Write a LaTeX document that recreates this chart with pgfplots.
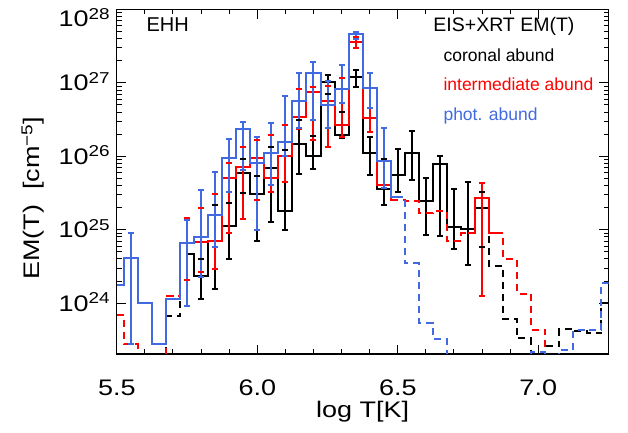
\documentclass[border=0pt]{standalone}
\usepackage{fontspec}
\setmainfont{Liberation Sans}
\newfontfamily\idlfont{Liberation Sans}[FakeStretch=1.2]
\usepackage{pgfplots}
\pgfplotsset{compat=1.18}
\usepackage{pgfplotstable}
\definecolor{photblue}{RGB}{65,105,225}
\definecolor{interred}{RGB}{255,0,0}

\pgfplotstableread{
T coronal inter phot
5.50 1e23 6.92e23 1.78e24
5.55 1e23 2.75e23 4.17e24
5.60 1e23 1e23 1.02e24
5.65 1e23 1e23 2.75e23
5.70 6.61e23 1.26e24 1.15e24
5.75 4.68e24 6.61e24 6.61e24
5.80 2.34e24 6.76e24 7.94e24
5.85 7.08e24 6.92e24 1.58e25
5.90 1.12e25 5.13e25 9.55e25
5.95 5.89e25 7.08e25 2.34e26
6.00 3.09e25 9.55e25 8.13e25
6.05 6.92e25 5.13e25 1.12e26
6.10 1.82e25 1.02e26 1.58e26
6.15 1.48e26 3.39e26 5.62e26
6.20 1.00e26 7.59e26 1.35e27
6.25 1.02e27 5.75e26 5.01e26
6.30 1.95e26 2.63e26 8.32e26
6.35 1.20e27 3.63e27 4.57e27
6.40 1.12e26 3.31e26 8.51e26
6.45 3.63e25 4.07e25 8.71e25
6.50 5.50e25 2.51e25 2.82e25
6.55 1.10e26 2.45e25 3.47e24
6.60 2.45e25 1.70e25 5.37e23
6.65 7.94e25 1.82e25 3.24e23
6.70 1.10e25 7.08e24 1e23
6.75 1.02e25 8.91e24 1e23
6.80 2.00e25 2.69e25 1e23
6.85 3.24e24 8.91e24 1e23
6.90 6.17e23 3.98e24 1e23
6.95 3.31e23 1.35e24 1e23
7.00 1e23 4.37e23 2.14e23
7.05 2.57e23 1e23 1e23
7.10 4.47e23 1e23 2.29e23
7.15 4.17e23 1e23 4.27e23
7.20 3.89e23 1e23 4.37e23
7.25 1.00e24 1e23 1.91e24
}\emdata

% error bars: two rows per bar (low, high), nan row breaks the line
\pgfplotstableread{
T E
5.80 1.15e24
5.80 3.98e24
5.80 nan
5.85 1.58e24
5.85 2.14e25
5.85 nan
5.90 3.98e24
5.90 2.34e25
5.90 nan
5.95 3.16e25
5.95 9.12e25
5.95 nan
6.00 7.08e24
6.00 5.37e25
6.00 nan
6.05 1.26e25
6.05 1.35e26
6.05 nan
6.10 1.00e25
6.10 1.20e26
6.10 nan
6.15 5.75e25
6.15 3.09e26
6.15 nan
6.20 6.76e25
6.20 1.91e26
6.20 nan
6.25 7.08e26
6.25 1.29e27
6.25 nan
6.30 1.78e26
6.30 4.07e26
6.30 nan
6.35 8.71e26
6.35 1.48e27
6.35 nan
6.40 5.50e25
6.40 1.86e26
6.40 nan
6.45 2.19e25
6.45 9.12e25
6.45 nan
6.50 3.24e25
6.50 1.26e26
6.50 nan
6.55 4.79e25
6.55 2.24e26
6.55 nan
6.60 8.51e24
6.60 5.13e25
6.60 nan
6.65 8.32e24
6.65 1.02e26
6.65 nan
6.70 5.50e24
6.70 3.55e25
6.70 nan
6.75 3.31e24
6.75 4.47e25
6.75 nan
6.80 5.75e24
6.80 3.31e25
}\errcor

\pgfplotstableread{
T E
5.75 2.04e24
5.75 1.45e25
5.75 nan
5.80 2.63e24
5.80 2.00e25
5.80 nan
5.85 2.95e24
5.85 3.09e25
5.85 nan
5.90 9.12e24
5.90 8.13e25
5.90 nan
5.95 1.38e25
5.95 1.35e26
5.95 nan
6.00 2.51e25
6.00 1.66e26
6.00 nan
6.05 3.24e25
6.05 1.95e26
6.05 nan
6.10 4.47e25
6.10 2.63e26
6.10 nan
6.15 2.34e26
6.15 8.32e26
6.15 nan
6.20 1.66e26
6.20 8.91e26
6.20 nan
6.25 1.32e26
6.25 9.12e26
6.25 nan
6.30 1.86e26
6.30 1.15e27
6.30 nan
6.35 2.95e27
6.35 4.27e27
6.35 nan
6.40 2.14e26
6.40 4.57e26
6.40 nan
6.80 1.26e24
6.80 4.37e25
}\errint

\pgfplotstableread{
T E
5.55 2.75e23
5.55 9.12e24
5.55 nan
5.75 9.12e23
5.75 1.35e25
5.75 nan
5.80 2.29e24
5.80 3.47e25
5.80 nan
5.85 5.89e24
5.85 6.03e25
5.85 nan
5.90 3.24e25
5.90 1.70e26
5.90 nan
5.95 6.61e25
5.95 2.95e26
5.95 nan
6.00 1.00e25
6.00 1.86e26
6.00 nan
6.05 4.07e25
6.05 2.88e26
6.05 nan
6.10 1.02e26
6.10 6.61e26
6.10 nan
6.15 2.45e26
6.15 1.38e27
6.15 nan
6.20 3.16e26
6.20 1.91e27
6.20 nan
6.25 2.40e26
6.25 1.07e27
6.25 nan
6.30 5.25e26
6.30 1.74e27
6.30 nan
6.35 3.98e27
6.35 5.01e27
6.35 nan
6.40 4.57e26
6.40 1.35e27
6.40 nan
6.45 3.72e25
6.45 2.45e26
}\errphot

\begin{document}
\begin{tikzpicture}
\useasboundingbox (-116.8pt,-78pt) rectangle (511.2pt,354pt);
\begin{axis}[
  at={(0,0)}, anchor=south west,
  scale only axis, width=491.7pt, height=344.5pt,
  xmin=5.5, xmax=7.25, ymin=2.03e23, ymax=1e28,
  ymode=log,
  xtick={5.5,6.0,6.5,7.0}, xticklabels={5.5,6.0,6.5,7.0},
  minor x tick num=4,
  ytick={1e24,1e25,1e26,1e27,1e28},
  yticklabels={10\textsuperscript{24},10\textsuperscript{25},10\textsuperscript{26},10\textsuperscript{27},\raisebox{-9pt}{10\textsuperscript{28}}},
  tick align=inside,
  major tick length=9.5pt, minor tick length=5pt,
  axis line style={line width=1.2pt},
  every tick/.style={black, line width=1pt},
  tick label style={font=\idlfont\fontsize{22.5}{27}\selectfont},
  xticklabel style={anchor=base, inner sep=0pt, yshift=-42pt},
  yticklabel style={anchor=base east, inner sep=0pt, xshift=-6.5pt, yshift=-8.1pt},
  xlabel={log T[K]},
  every axis x label/.style={at={(axis description cs:0.5,0)}, anchor=base, yshift=-64pt, font=\idlfont\fontsize{22.5}{27}\selectfont},
  ylabel={EM(T)\ \ [cm\textsuperscript{−5}]},
  every axis y label/.style={at={(axis description cs:-0.1562,0.452)}, rotate=90, anchor=base, font=\idlfont\fontsize{22.5}{27}\selectfont},
  const plot mark mid,
  clip=true,
]
% coronal (black)
\addplot[black, line width=2pt, dash pattern=on 7pt off 5pt] table[x=T, y=coronal] {\emdata};
\addplot[black, line width=2pt, restrict x to domain=5.74:6.81] table[x=T, y=coronal] {\emdata};
\addplot[black, line width=2pt, sharp plot, unbounded coords=jump, mark=-, mark size=3pt, mark options={solid, line width=2pt}] table[x=T, y=E] {\errcor};
% intermediate (red)
\addplot[interred, line width=2pt, dash pattern=on 7pt off 5pt] table[x=T, y=inter] {\emdata};
\addplot[interred, line width=2pt, restrict x to domain=5.74:6.51] table[x=T, y=inter] {\emdata};
\addplot[interred, line width=2pt, restrict x to domain=6.74:6.86] table[x=T, y=inter] {\emdata};
\addplot[interred, line width=2pt, sharp plot, unbounded coords=jump, mark=-, mark size=3pt, mark options={solid, line width=2pt}] table[x=T, y=E] {\errint};
% photospheric (blue)
\addplot[photblue, line width=2pt, dash pattern=on 7pt off 5pt] table[x=T, y=phot] {\emdata};
\addplot[photblue, line width=2pt, restrict x to domain=5.49:6.51] table[x=T, y=phot] {\emdata};
\addplot[photblue, line width=2pt, sharp plot, unbounded coords=jump, mark=-, mark size=3pt, mark options={solid, line width=2pt}] table[x=T, y=E] {\errphot};

\node[anchor=base west, font=\fontsize{20}{24}\selectfont, xshift=26.2pt, yshift=-22.2pt] at (rel axis cs:0,1) {EHH};
\node[anchor=base east, font=\fontsize{19.5}{24}\selectfont, xshift=-30.5pt, yshift=-22.2pt] at (rel axis cs:1,1) {EIS+XRT EM(T)};
\node[anchor=base west, font=\fontsize{17.5}{21}\selectfont, text=black, xshift=323.2pt, yshift=-52.2pt] at (rel axis cs:0,1) {coronal abund};
\node[anchor=base west, font=\fontsize{17.5}{21}\selectfont, text=interred, xshift=323.2pt, yshift=-81.2pt] at (rel axis cs:0,1) {intermediate abund};
\node[anchor=base west, font=\fontsize{17.5}{21}\selectfont, text=photblue, xshift=323.2pt, yshift=-111.2pt] at (rel axis cs:0,1) {phot. abund};
\end{axis}
\end{tikzpicture}
\end{document}
